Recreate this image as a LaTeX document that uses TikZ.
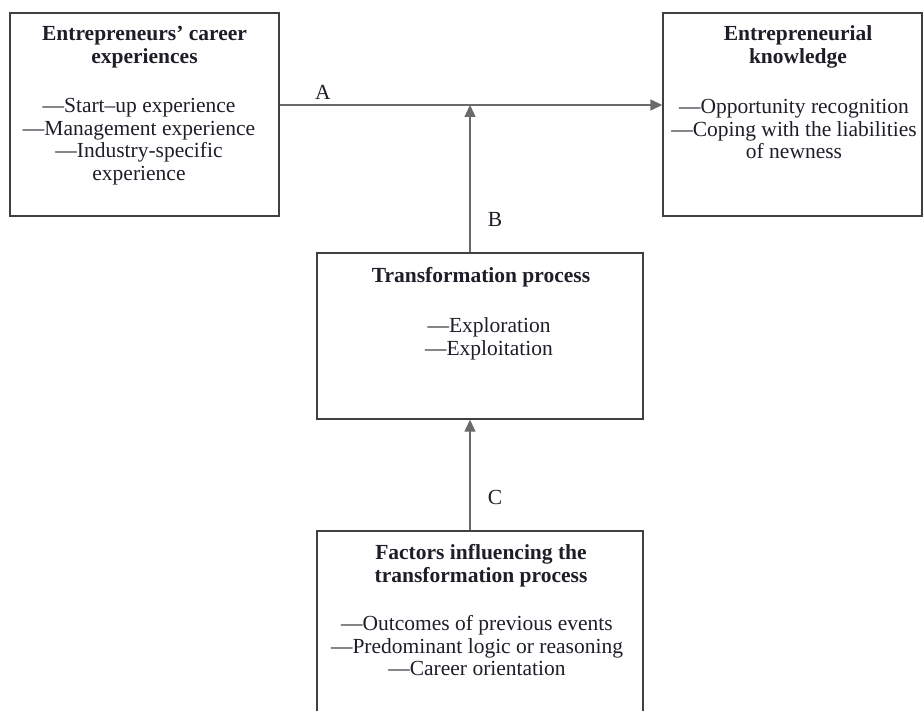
\documentclass[tikz,border=0pt]{standalone}
\usepackage{fontspec}
\setmainfont{Liberation Serif}
\usetikzlibrary{arrows.meta}
\definecolor{boxline}{HTML}{404040}
\definecolor{arrline}{HTML}{6A6A6A}
\definecolor{txt}{HTML}{1E1E28}
\begin{document}
\begin{tikzpicture}[x=1pt,y=-1pt,
  box/.style={draw=boxline, line width=1.4pt, inner sep=0pt},
  ttl/.style={font=\bfseries\fontsize{21.5}{23.5}\selectfont, text=txt, align=center, inner sep=0pt},
  itm/.style={font=\fontsize{21.5}{22.5}\selectfont, text=txt, align=center, inner sep=0pt},
  lbl/.style={font=\fontsize{21.5}{22}\selectfont, text=txt, inner sep=0pt},
  conn/.style={draw=arrline, line width=1.4pt, -{Triangle[length=12pt,width=11pt]}}]
\useasboundingbox (0,0) rectangle (923,711);
\fill[white] (0,0) rectangle (923,711);
% boxes
\node[box, minimum width=269pt, minimum height=203pt] (lb) at (144.5,114.5) {};
\node[box, minimum width=259pt, minimum height=203pt] (rb) at (792.5,114.5) {};
\node[box, minimum width=326pt, minimum height=166pt] (mb) at (480,336) {};
\node[box, minimum width=326pt, minimum height=220pt] (fb) at (480,641) {};
% texts
\node[ttl] (lbt) at (144.5,47) {Entrepreneurs’ career\\experiences};
\node[itm] (lbi) at (139,141.5) {—Start–up experience\\—Management experience\\—Industry-specific\\experience};
\node[ttl] (rbt) at (798,47) {Entrepreneurial\\knowledge};
\node[itm] (rbi) at (794,129) {—Opportunity recognition\\—Coping with the liabilities\\of newness};
\node[ttl] (mbt) at (481,277) {Transformation process};
\node[itm] (mbi) at (489,339) {—Exploration\\—Exploitation};
\node[ttl] (fbt) at (481,565.5) {Factors influencing the\\transformation process};
\node[itm] (fbi) at (477,646) {—Outcomes of previous events\\—Predominant logic or reasoning\\—Career orientation};
% connectors
\coordinate (ya) at (0,105);
\coordinate (bx) at (470,0);
\draw[conn] (lb.east |- ya) -- (rb.west |- ya);
\draw[conn] (mb.north -| bx) -- (bx |- ya);
\draw[conn] (fb.north -| bx) -- (mb.south -| bx);
% labels
\node[lbl] (la) at (323,92) {A};
\node[lbl] (lbb) at (495,219) {B};
\node[lbl] (lc) at (495,497) {C};
\end{tikzpicture}
\end{document}
